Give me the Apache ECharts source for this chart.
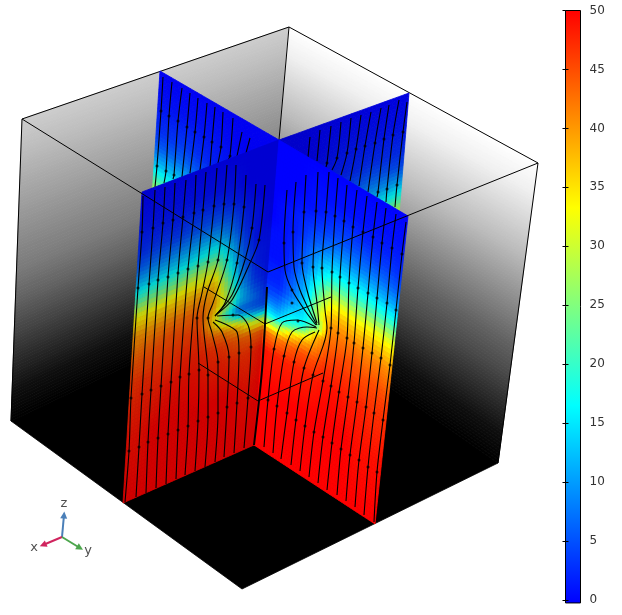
<!DOCTYPE html>
<html>
<head>
<meta charset="utf-8">
<style>
  html, body { margin: 0; padding: 0; background: #fff; }
  #chart { width: 622px; height: 615px; }
</style>
<script src="https://cdn.jsdelivr.net/npm/echarts@6/dist/echarts.min.js"></script>
</head>
<body>
<div id="chart"></div>
<script>
// colour scale of the colorbar
var scaleValues = [0, 16.67, 33.33, 50];
var scaleColors = [[0, 0, 255], [0, 255, 255], [255, 255, 0], [255, 0, 0]];
var colorbarRange = [-0.25, 50];

// corners of the box in scene pixels: topLeft, topRight, bottomRight, bottomLeft
var wallLeftCorners = [[22, 119], [289, 27], [265, 300], [11, 421]];
var wallRightCorners = [[289, 27], [538, 163], [498, 463], [265, 300]];
var floorCorners = [[11, 421], [265, 300], [498, 463], [242, 589]];

// grey level of the walls, top to bottom
var wallRows = [0, 0.1, 0.2, 0.3, 0.4, 0.5, 0.6, 0.7, 0.8, 0.9, 1];
var wallLeftGrey = [205, 190, 172, 155, 138, 122, 98, 70, 42, 15, 0];
var wallRightGrey = [255, 240, 215, 190, 160, 130, 100, 75, 45, 15, 0];

// the two slices
var frontLeftCorners = [[142, 192], [279, 140], [254, 445], [123, 503]];
var frontRightCorners = [[279, 140], [408, 216], [375, 524], [254, 445]];
var backLeftCorners = [[160, 71], [279, 140], [254, 445], [141, 371]];
var backRightCorners = [[279, 140], [409, 93], [385, 387], [254, 445]];

var frontCols = [0, 0.1, 0.2, 0.3, 0.4, 0.5, 0.6, 0.7, 0.8, 0.9, 1];
var frontRows = [0, 0.1, 0.15, 0.2, 0.25, 0.3, 0.35, 0.38, 0.41, 0.44, 0.47, 0.5, 0.52, 0.54, 0.56, 0.58, 0.62, 0.68, 0.8, 1];

var frontLeftValues = [
  [0, 1, 2, 3, 6, 12, 20, 27, 33, 36, 40, 41, 42, 43, 44, 45, 46, 47, 49, 50],
  [0, 1, 2, 3.5, 7, 13, 22, 28, 34, 37, 40, 42, 43, 44, 45, 45, 47, 48, 49, 50],
  [0, 1, 2, 4, 8, 14, 23, 29, 35, 38, 41, 43, 44, 45, 45, 46, 47, 48, 50, 50],
  [0, 1, 2, 4, 9, 15, 24, 31, 36, 39, 42, 44, 45, 45, 46, 46, 47, 49, 50, 50],
  [0, 1, 3, 5, 10, 16, 27, 33, 37, 40, 43, 44, 45, 46, 46, 47, 48, 49, 50, 50],
  [0, 1, 3, 5.5, 11, 18, 29, 33, 38, 41, 43, 45, 45, 46, 47, 47, 48, 49, 50, 50],
  [0, 1, 3, 6, 11, 19, 29, 34, 38, 39, 40, 38, 37, 38, 41, 44, 47, 48, 50, 50],
  [0, 1, 2, 5, 8, 13, 17, 20, 24, 27, 30, 25, 20, 26, 36, 42, 46, 48, 50, 50],
  [0, 0, 1, 2, 3, 5, 7, 8, 10, 11, 14, 12, 8, 12, 28, 38, 44, 47, 50, 50],
  [0, 0, 0, 1, 1, 1, 2, 2, 3, 4, 6, 8, 6, 8, 16, 30, 43, 47, 49, 50],
  [0, 0, 0, 0, 0, 1, 1, 1, 1, 1, 2, 3, 4, 5, 12, 27, 44, 49, 50, 50]
];

// front right face, centre to outer edge
var frontRightValues = [
  [0, 0, 0, 0, 0, 1, 1, 1, 2, 2, 3, 5, 8, 12, 16, 24, 42, 49, 50, 50],
  [0, 0, 0, 1, 1, 1, 1, 1, 2, 2, 3, 6, 8, 11, 15, 24, 41, 48, 50, 50],
  [0, 0, 1, 2, 2, 3, 4, 5, 6, 7, 8, 12, 15, 17, 21, 33, 43, 48, 50, 50],
  [0, 1, 1, 3, 5, 7, 9, 11, 12, 13, 14, 15, 16, 19, 30, 38, 45, 48, 50, 50],
  [0, 1, 2, 4, 7, 12, 16, 20, 23, 27, 29, 22, 25, 37, 39, 41, 45, 48, 50, 50],
  [0, 1, 3, 5, 9, 14, 21, 27, 32, 36, 39, 41, 42, 43, 44, 45, 47, 49, 50, 50],
  [0, 1, 3, 5, 9, 14, 21, 27, 33, 37, 40, 42, 43, 44, 45, 46, 47, 49, 50, 50],
  [0, 1, 2, 5, 8, 14, 20, 26, 32, 36, 39, 42, 43, 44, 45, 45, 47, 48, 50, 50],
  [0, 1, 2, 4, 8, 13, 20, 26, 32, 36, 39, 41, 42, 43, 44, 45, 46, 48, 49, 50],
  [0, 1, 2, 4, 7, 12, 19, 25, 31, 35, 38, 41, 42, 43, 44, 45, 46, 47, 49, 50],
  [0, 1, 2, 3, 6, 11, 18, 24, 30, 34, 37, 40, 41, 42, 43, 44, 46, 47, 49, 50]
];

// back faces, only their upper part is visible
var backCols = [0, 0.25, 0.5, 0.75, 1];
var backRows = [0, 0.1, 0.2, 0.25, 0.3, 0.35, 0.4, 1];
var backLeftValues = [
  [0, 1, 3, 6, 12, 20, 30, 50],
  [0, 1, 4, 7, 12, 17, 22, 50],
  [0, 1, 2, 4, 6, 9, 12, 50],
  [0, 0, 1, 1, 2, 3, 4, 50],
  [0, 0, 0, 0, 0, 1, 1, 50]
];
var backRightValues = [
  [0, 0, 0, 0, 0, 1, 1, 50],
  [0, 0, 1, 1, 2, 3, 4, 50],
  [0, 1, 2, 4, 6, 9, 12, 50],
  [0, 1, 3, 6, 10, 16, 22, 50],
  [0, 1, 3, 5, 11, 19, 29, 50]
];

// streamlines behind the front faces
var backLines = [
  [[163, 77], [161, 111], [157, 166], [155, 187]],
  [[172, 82], [169, 116], [166, 171], [164, 183]],
  [[182, 88], [178, 121], [174, 175], [173, 179]],
  [[190, 93], [187, 127], [182, 177]],
  [[198, 98], [195, 132], [190, 173]],
  [[207, 103], [204, 137], [200, 170]],
  [[215, 107], [212, 142], [210, 167]],
  [[223, 112], [221, 147], [218, 163]],
  [[233, 118], [230, 156], [228, 160]],
  [[242, 132], [237, 156]],
  [[250, 138], [246, 153]],
  [[407, 102], [403, 132], [397, 185], [395, 207]],
  [[399, 100], [393, 135], [387, 189], [386, 202]],
  [[389, 105], [384, 139], [378, 192], [377, 197]],
  [[381, 108], [375, 143], [368, 192]],
  [[371, 112], [365, 146], [359, 186]],
  [[361, 115], [356, 149], [350, 181]],
  [[351, 118], [347, 153], [341, 175]],
  [[341, 122], [337, 158], [332, 170]],
  [[331, 126], [327, 163], [326, 167]],
  [[320, 130], [317, 161]],
  [[310, 137], [308, 157]]
];
var backArrows = [
  [161, 111], [169, 116], [178, 121], [187, 127], [195, 132], [204, 137], [212, 142], [221, 147], [230, 156],
  [157, 166], [166, 171], [174, 175],
  [403, 132], [393, 135], [384, 139], [375, 143], [365, 146], [356, 149], [347, 153], [337, 158], [327, 163],
  [397, 185], [387, 189], [378, 192]
];

// streamlines on the front faces
var frontLines = [
  [[143, 196], [142, 232], [138, 288], [131, 398], [129, 451], [125, 502]],
  [[155, 190], [153, 228], [149, 284], [142, 394], [139, 447], [136, 497]],
  [[165, 187], [163, 223], [158, 280], [151, 390], [148, 442], [146, 493]],
  [[175, 183], [173, 220], [168, 277], [161, 386], [158, 438], [156, 488]],
  [[186, 180], [183, 217], [178, 273], [171, 382], [168, 434], [166, 484]],
  [[196, 175], [194, 213], [188, 269], [180, 377], [178, 430], [176, 479]],
  [[206, 172], [203, 210], [198, 266], [193, 318], [189, 374], [188, 426], [185, 475]],
  [[217, 168], [214, 206], [208, 262], [202, 293], [197, 318], [199, 370], [198, 421], [195, 471]],
  [[227, 165], [224, 204], [218, 260], [207, 293], [203, 318], [208, 375], [208, 417], [205, 467]],
  [[236, 165], [234, 204], [227, 260], [213, 303], [208, 318], [212, 333], [218, 362], [218, 413], [215, 462]],
  [[246, 175], [244, 207], [237, 263], [225, 303], [215, 316]],
  [[256, 184], [252, 228], [245, 260], [232, 295], [215, 316]],
  [[265, 185], [259, 240], [250, 263], [232, 300], [217, 314]],
  [[224, 457], [227, 407], [229, 357], [222, 332], [213, 322]],
  [[234, 453], [237, 403], [239, 353], [237, 332], [225, 324], [215, 320]],
  [[244, 448], [248, 398], [251, 347], [248, 325], [238, 315], [217, 316]],
  [[287, 190], [284, 243], [285, 270], [292, 290], [306, 312], [316, 325]],
  [[296, 182], [293, 232], [294, 267], [300, 290], [310, 312], [317, 325]],
  [[306, 175], [304, 212], [302, 263], [307, 290], [317, 323]],
  [[318, 172], [316, 211], [313, 267], [317, 303], [319, 325]],
  [[319, 330], [304, 368], [296, 420], [291, 465]],
  [[329, 172], [326, 212], [322, 268], [325, 310], [327, 328], [313, 375], [305, 426], [300, 471]],
  [[338, 178], [335, 216], [332, 272], [331, 328], [323, 381], [314, 432], [309, 477]],
  [[347, 185], [344, 221], [340, 277], [338, 333], [331, 386], [323, 437], [318, 483]],
  [[357, 190], [353, 227], [349, 283], [347, 338], [339, 392], [332, 443], [327, 490]],
  [[367, 196], [363, 232], [358, 288], [354, 343], [348, 397], [341, 449], [337, 495]],
  [[377, 202], [373, 237], [368, 293], [363, 348], [357, 402], [350, 455], [346, 501]],
  [[386, 208], [382, 243], [377, 298], [372, 353], [366, 407], [359, 460], [355, 507]],
  [[396, 214], [392, 248], [387, 303], [381, 358], [374, 413], [368, 467], [364, 515]],
  [[406, 222], [402, 254], [396, 310], [390, 365], [383, 420], [377, 472], [374, 522]],
  [[264, 447], [268, 400], [274, 349], [282, 323], [297, 320], [316, 327]],
  [[273, 453], [277, 406], [284, 356], [292, 332], [307, 327], [317, 328]],
  [[281, 459], [287, 413], [294, 362], [302, 340], [315, 332]]
];
var centreLine = [[267, 287], [262, 370], [254, 445]];
var frontArrows = [
  [142, 232], [138, 288], [131, 398], [129, 451], [153, 228], [149, 284], [142, 394], [139, 447],
  [163, 223], [158, 280], [151, 390], [148, 442], [173, 220], [168, 277], [161, 386], [158, 438],
  [183, 217], [178, 273], [171, 382], [168, 434], [194, 213], [188, 269], [180, 377], [178, 430],
  [203, 210], [198, 266], [189, 374], [188, 426], [214, 206], [208, 262], [199, 370], [198, 421],
  [224, 204], [218, 260], [208, 375], [208, 417], [234, 204], [227, 260], [218, 362], [218, 413],
  [244, 207], [237, 263], [252, 228], [259, 240], [227, 407], [229, 357], [237, 403], [239, 353],
  [248, 398], [251, 347], [233, 315], [197, 318], [208, 318],
  [284, 243], [293, 232], [304, 212], [316, 211], [326, 212], [335, 216], [344, 221], [353, 227],
  [363, 232], [373, 237], [382, 243], [392, 248], [402, 254], [292, 290], [302, 263], [313, 267],
  [322, 268], [332, 272], [340, 277], [349, 283], [358, 288], [368, 293], [377, 298], [387, 303],
  [396, 310], [347, 338], [354, 343], [363, 348], [372, 353], [381, 358], [390, 365], [338, 333],
  [331, 328], [323, 381], [331, 386], [339, 392], [348, 397], [357, 402], [366, 407], [374, 413],
  [383, 420], [314, 432], [323, 437], [332, 443], [341, 449], [350, 455], [359, 460], [368, 467],
  [377, 472], [313, 375], [304, 368], [305, 426], [296, 420], [294, 362], [287, 413], [284, 356],
  [277, 406], [274, 349], [268, 400], [298, 321], [292, 303]
];

// box outline
var backEdges = [
  [[22, 119], [289, 27], [538, 163]],
  [[289, 27], [279, 140]],
  [[22, 119], [11, 421]],
  [[538, 163], [498, 463]]
];
var frontEdges = [
  [[22, 119], [268, 272], [538, 163]],
  [[204, 287], [265, 324], [331, 297]],
  [[198, 363], [258, 401], [323, 373]]
];

// axis triad
var triadOrigin = [62, 537];
var triadTips = [[64, 515], [43, 545], [80, 548]];
var triadColors = ['#4a7fb8', '#d0245e', '#4da64d'];
var triadNames = ['z', 'x', 'y'];
var triadLabelPos = [[64, 504], [34, 548], [88, 551]];

function lerp(a, b, t) {
  return a + (b - a) * t;
}

function project(corners, u, v) {
  var tx = lerp(corners[0][0], corners[1][0], u), ty = lerp(corners[0][1], corners[1][1], u);
  var bx = lerp(corners[3][0], corners[2][0], u), by = lerp(corners[3][1], corners[2][1], u);
  return [lerp(tx, bx, v), lerp(ty, by, v)];
}

function fieldColor(val, shade) {
  var i = 0;
  while (i < scaleValues.length - 2 && val > scaleValues[i + 1]) i++;
  var t = (val - scaleValues[i]) / (scaleValues[i + 1] - scaleValues[i]);
  var c = scaleColors[i], d = scaleColors[i + 1];
  return 'rgb(' + Math.round(lerp(c[0], d[0], t) * shade) + ',' +
    Math.round(lerp(c[1], d[1], t) * shade) + ',' + Math.round(lerp(c[2], d[2], t) * shade) + ')';
}

function greyColor(val) {
  var g = Math.round(val);
  return 'rgb(' + g + ',' + g + ',' + g + ')';
}

// one mark per table cell, the cell is painted in small steps so it looks smooth
function panelSeries(corners, cols, rows, table, colorOf, z, stepU, stepV) {
  var cells = [];
  for (var c = 0; c < cols.length - 1; c++) {
    for (var r = 0; r < rows.length - 1; r++) cells.push([c, r]);
  }
  return {
    type: 'custom',
    silent: true,
    z: z,
    data: cells,
    encode: { x: 0, y: 1 },
    renderItem: function (params, api) {
      var c = api.value(0), r = api.value(1);
      var u0 = cols[c], u1 = cols[c + 1], v0 = rows[r], v1 = rows[r + 1];
      var nu = Math.max(1, Math.round((u1 - u0) / stepU));
      var nv = Math.max(1, Math.round((v1 - v0) / stepV));
      var children = [];
      for (var i = 0; i < nu; i++) {
        for (var j = 0; j < nv; j++) {
          var a = (i + 0.5) / nu, b = (j + 0.5) / nv;
          var top = lerp(table[c][r], table[c + 1][r], a);
          var bottom = lerp(table[c][r + 1], table[c + 1][r + 1], a);
          var fill = colorOf(lerp(top, bottom, b), lerp(u0, u1, a));
          var ua = lerp(u0, u1, i / nu), ub = lerp(u0, u1, (i + 1) / nu);
          var va = lerp(v0, v1, j / nv), vb = lerp(v0, v1, (j + 1) / nv);
          children.push({
            type: 'polygon',
            shape: {
              points: [
                api.coord(project(corners, ua, va)), api.coord(project(corners, ub, va)),
                api.coord(project(corners, ub, vb)), api.coord(project(corners, ua, vb))
              ]
            },
            style: { fill: fill, stroke: fill, lineWidth: 0.8 }
          });
        }
      }
      return { type: 'group', children: children };
    }
  };
}

function lineSeries(points, z, width) {
  return {
    type: 'line',
    data: points,
    smooth: 0.3,
    showSymbol: false,
    silent: true,
    z: z,
    clip: false,
    lineStyle: { color: '#000', width: width }
  };
}

function straightSeries(points, z) {
  var s = lineSeries(points, z, 1);
  s.smooth = false;
  return s;
}

function arrowSeries(points, z) {
  return {
    type: 'scatter',
    data: points,
    symbol: 'circle',
    symbolSize: 3,
    silent: true,
    z: z,
    itemStyle: { color: '#000' }
  };
}

var series = [];
series.push(panelSeries(wallLeftCorners, [0, 1], wallRows,
  [wallLeftGrey, wallLeftGrey], greyColor, 1, 1, 0.01));
series.push(panelSeries(wallRightCorners, [0, 1], wallRows,
  [wallRightGrey, wallRightGrey], greyColor, 1, 1, 0.01));
series.push(panelSeries(floorCorners, [0, 1], [0, 1],
  [[0, 0], [0, 0]], greyColor, 1, 1, 1));
backEdges.forEach(function (e) { series.push(straightSeries(e, 2)); });

series.push(panelSeries(backLeftCorners, backCols, backRows, backLeftValues,
  function (val) { return fieldColor(val, 0.95); }, 3, 0.03, 0.012));
series.push(panelSeries(backRightCorners, backCols, backRows, backRightValues,
  function (val, u) { return fieldColor(val, lerp(0.78, 0.88, u)); }, 3, 0.03, 0.012));
backLines.forEach(function (l) { series.push(lineSeries(l, 4, 1.1)); });
series.push(arrowSeries(backArrows, 4));

series.push(panelSeries(frontLeftCorners, frontCols, frontRows, frontLeftValues,
  function (val) { return fieldColor(val, 0.82); }, 5, 0.025, 0.0125));
series.push(panelSeries(frontRightCorners, frontCols, frontRows, frontRightValues,
  function (val) { return fieldColor(val, 1); }, 5, 0.025, 0.0125));
frontLines.forEach(function (l) { series.push(lineSeries(l, 6, 1.1)); });
series.push(lineSeries(centreLine, 6, 2));
series.push(arrowSeries(frontArrows, 6));
frontEdges.forEach(function (e) { series.push(straightSeries(e, 7)); });

// triad arrows and their letters
triadTips.forEach(function (tip, i) {
  series.push({
    type: 'line',
    data: [],
    silent: true,
    z: 8,
    markLine: {
      silent: true,
      animation: false,
      symbol: ['none', 'triangle'],
      symbolSize: 7,
      label: { show: false },
      lineStyle: { color: triadColors[i], width: 2, type: 'solid' },
      data: [[{ coord: triadOrigin }, { coord: tip }]]
    }
  });
  series.push({
    type: 'scatter',
    data: [triadLabelPos[i]],
    symbolSize: 0,
    silent: true,
    z: 8,
    label: {
      show: true,
      position: 'inside',
      formatter: triadNames[i],
      fontFamily: 'DejaVu Sans',
      fontSize: 13,
      color: '#222'
    }
  });
});

// colorbar
series.push({
  type: 'custom',
  xAxisIndex: 1,
  yAxisIndex: 1,
  silent: true,
  z: 9,
  data: [colorbarRange],
  renderItem: function (params, api) {
    var bottom = api.coord([0, api.value(0)]);
    var top = api.coord([1, api.value(1)]);
    var stops = scaleValues.map(function (val, i) {
      var c = scaleColors[i];
      return { offset: 1 - val / 50, color: 'rgb(' + c.join(',') + ')' };
    }).reverse();
    return {
      type: 'rect',
      shape: { x: bottom[0], y: top[1], width: top[0] - bottom[0], height: bottom[1] - top[1] },
      style: {
        fill: new echarts.graphic.LinearGradient(0, 0, 0, 1, stops),
        stroke: '#000',
        lineWidth: 1
      }
    };
  }
});

var chart = echarts.init(document.getElementById('chart'), null, { renderer: 'canvas' });
chart.setOption({
  animation: false,
  backgroundColor: '#fff',
  grid: [
    { left: 0, top: 0, right: 0, bottom: 0 },
    { left: 565.5, top: 10.5, width: 15, height: 589.5 }
  ],
  xAxis: [
    { type: 'value', gridIndex: 0, min: 0, max: 622, show: false },
    { type: 'value', gridIndex: 1, min: 0, max: 1, show: false }
  ],
  yAxis: [
    { type: 'value', gridIndex: 0, min: 0, max: 615, inverse: true, show: false },
    {
      type: 'value',
      gridIndex: 1,
      position: 'right',
      min: 0,
      max: 50,
      interval: 5,
      z: 10,
      splitLine: { show: false },
      axisLine: { show: false },
      axisTick: { show: true, inside: true, length: 3, lineStyle: { color: '#000' } },
      axisLabel: { margin: 9, fontFamily: 'DejaVu Sans', fontSize: 12, color: '#333' }
    },
    {
      type: 'value',
      gridIndex: 1,
      position: 'left',
      min: 0,
      max: 50,
      interval: 5,
      z: 10,
      splitLine: { show: false },
      axisLine: { show: false },
      axisTick: { show: true, inside: true, length: 3, lineStyle: { color: '#000' } },
      axisLabel: { show: false }
    }
  ],
  series: series
});
</script>
</body>
</html>
